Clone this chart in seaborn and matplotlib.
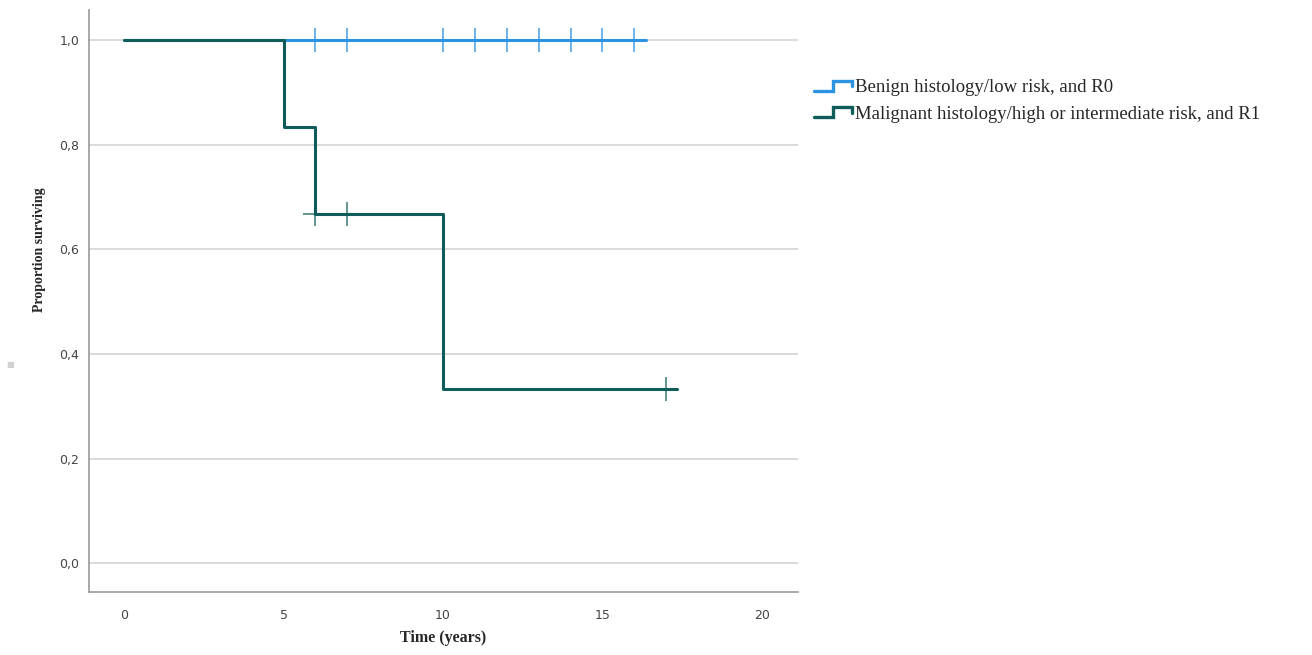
import matplotlib
matplotlib.use("Agg")
import matplotlib.pyplot as plt
import seaborn as sns
import pandas as pd
from matplotlib.lines import Line2D
from matplotlib.legend_handler import HandlerLine2D
from matplotlib.ticker import FuncFormatter, FixedLocator

# ---- data ----
benign_label = "Benign histology/low risk, and R0"
malig_label = "Malignant histology/high or intermediate risk, and R1"

benign_time = [0, 16.35]
benign_surv = [1.0, 1.0]
benign_censor_time = [6, 7, 10, 11, 12, 13, 14, 15, 16]
benign_censor_surv = [1.0, 1.0, 1.0, 1.0, 1.0, 1.0, 1.0, 1.0, 1.0]

malig_time = [0, 5, 6, 10, 17.35]
malig_surv = [1.0, 0.833, 0.667, 0.333, 0.333]
malig_censor_time = [6, 7, 17]
malig_censor_surv = [0.667, 0.667, 0.333]

x_ticks = [0, 5, 10, 15, 20]
y_ticks = [0.0, 0.2, 0.4, 0.6, 0.8, 1.0]

blue = "#2b93e2"
green = "#0f5c5a"

sns.set_style("white")
plt.rcParams["font.family"] = ["DejaVu Sans"]

fig = plt.figure(figsize=(13.12, 6.55), dpi=100)
ax = fig.add_axes([89 / 1312, 1 - 592 / 655, (798 - 89) / 1312, (592 - 10) / 655])

df_b = pd.DataFrame({"t": benign_time, "s": benign_surv})
df_m = pd.DataFrame({"t": malig_time, "s": malig_surv})
df_bc = pd.DataFrame({"t": benign_censor_time, "s": benign_censor_surv})
df_mc = pd.DataFrame({"t": malig_censor_time, "s": malig_censor_surv})

sns.lineplot(data=df_b, x="t", y="s", drawstyle="steps-post", color=blue,
             linewidth=2.2, ax=ax, zorder=3)
sns.scatterplot(data=df_bc, x="t", y="s", marker="+", s=17 ** 2, linewidth=1.3,
                color=blue, alpha=0.75, ax=ax, zorder=3)
sns.lineplot(data=df_m, x="t", y="s", drawstyle="steps-post", color=green,
             linewidth=2.2, ax=ax, zorder=4)
sns.scatterplot(data=df_mc, x="t", y="s", marker="+", s=17 ** 2, linewidth=1.3,
                color=green, alpha=0.7, ax=ax, zorder=4)

ax.set_xlim(-1.1, 21.13)
ax.set_ylim(-0.055, 1.057)
ax.xaxis.set_major_locator(FixedLocator(x_ticks))
ax.yaxis.set_major_locator(FixedLocator(y_ticks))
ax.yaxis.set_major_formatter(FuncFormatter(lambda v, p: f"{v:.1f}".replace(".", ",")))
ax.xaxis.set_major_formatter(FuncFormatter(lambda v, p: f"{int(v)}"))
ax.tick_params(axis="both", length=0, labelsize=9, labelcolor="#444444")
ax.tick_params(axis="x", pad=12)
ax.tick_params(axis="y", pad=7)

ax.grid(axis="y", color="#d4d4d4", linewidth=1.2)
ax.grid(axis="x", visible=False)
for side in ["top", "right"]:
    ax.spines[side].set_visible(False)
for side in ["left", "bottom"]:
    ax.spines[side].set_color("#9a9a9a")
    ax.spines[side].set_linewidth(1.2)

ax.set_xlabel("Time (years)", family="Liberation Serif", fontweight="bold",
              fontsize=11.5)
ax.set_ylabel("Proportion surviving", family="Liberation Serif", fontweight="bold",
              fontsize=10)
ax.xaxis.set_label_coords((443 - 89) / 709, (592 - 638) / 582)
ax.xaxis.label.set_va("center")
ax.yaxis.set_label_coords((39 - 89) / 709, (592 - 250) / 582)
ax.yaxis.label.set_va("center")


class StepHandler(HandlerLine2D):
    def create_artists(self, legend, orig_handle, xdescent, ydescent, width,
                       height, fontsize, trans):
        x0 = -xdescent
        y0 = -ydescent
        xs = [x0, x0 + 0.5 * width, x0 + 0.5 * width, x0 + width, x0 + width]
        ys = [y0 + 0.1 * height, y0 + 0.1 * height, y0 + 0.85 * height,
              y0 + 0.85 * height, y0 + 0.45 * height]
        line = Line2D(xs, ys, color=orig_handle.get_color(),
                      linewidth=orig_handle.get_linewidth(),
                      solid_joinstyle="miter")
        line.set_transform(trans)
        return [line]


handles = [Line2D([], [], color=blue, linewidth=2.4),
           Line2D([], [], color=green, linewidth=2.4)]
leg = fig.legend(handles, [benign_label, malig_label],
                 handler_map={Line2D: StepHandler()},
                 loc="upper left", bbox_to_anchor=(814 / 1312, 1 - 79 / 655),
                 frameon=False, handlelength=2.0, handletextpad=0.2,
                 labelspacing=0.5, borderaxespad=0, borderpad=0,
                 prop={"family": "Liberation Serif", "size": 13.5})

fig.text(10 / 1312, 1 - 365 / 655, "■", color="#d0d0d0", fontsize=6,
         ha="center", va="center")

fig.savefig("out.png", dpi=100, facecolor="white")
